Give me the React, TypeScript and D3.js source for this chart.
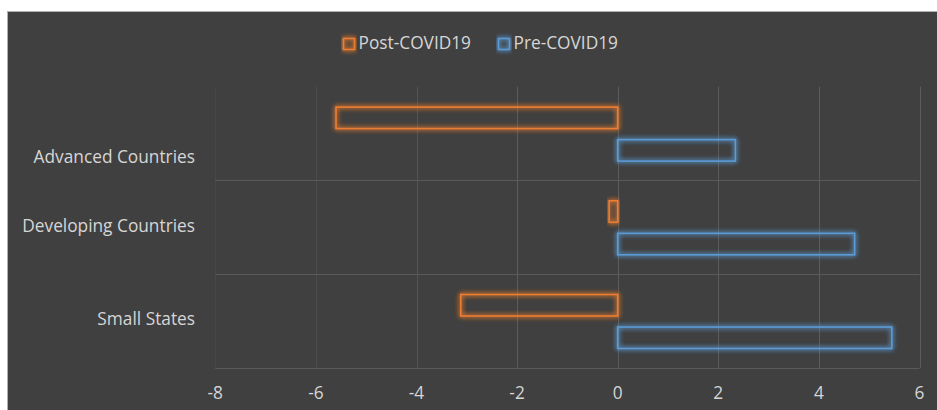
import React from "react";
import * as d3 from "d3";

const categories = ["Advanced Countries", "Developing Countries", "Small States"];
const seriesNames = ["Post-COVID19", "Pre-COVID19"];
const postCovid = [-5.6, -0.17, -3.12];
const preCovid = [2.34, 4.71, 5.45];
const xTicks = [-8, -6, -4, -2, 0, 2, 4, 6];

const COLORS: Record<string, string> = {
  "Post-COVID19": "#ED7D31",
  "Pre-COVID19": "#5B9BD5",
};

const FONT = "'Open Sans', 'DejaVu Sans', sans-serif";
const TEXT = "#d6d6d6";

export default function App() {
  const W = 937;
  const H = 410;
  const x = d3.scaleLinear().domain([-8, 6]).range([215.3, 919.5]);
  const y = d3.scaleBand<string>().domain(categories).range([86.6, 367.7]);
  const inner = d3
    .scaleBand<string>()
    .domain(seriesNames)
    .range([20.5, 74.5])
    .paddingInner(0.34);

  const seriesData: Record<string, number[]> = {
    "Post-COVID19": postCovid,
    "Pre-COVID19": preCovid,
  };

  const [y0, y1] = y.range();
  const boundaries = categories.slice(1).map((c) => y(c)!).concat([y1]);
  const gridColor = (t: number) =>
    t <= -8 ? "#464646" : t <= -6 ? "#4c4c4c" : t <= -4 ? "#535353" : "#5c5c5c";
  // first label sits lower in the reference image
  const labelShift = (i: number) => (i === 0 ? 25 : 0);

  return (
    <svg
      width={W}
      height={H}
      style={{ position: "absolute", left: 0, top: 0, display: "block" }}
    >
      <defs>
        <filter id="glow" x="-20%" y="-60%" width="140%" height="220%">
          <feGaussianBlur in="SourceGraphic" stdDeviation="2.4" result="blur" />
          <feMerge>
            <feMergeNode in="blur" />
            <feMergeNode in="blur" />
            <feMergeNode in="SourceGraphic" />
          </feMerge>
        </filter>
      </defs>
      <rect x={7.5} y={11.5} width={W} height={H} fill="#404040" stroke="#b0b0b0" strokeWidth={1} />

      {/* vertical gridlines */}
      {xTicks.map((t) => (
        <line
          key={"v" + t}
          x1={Math.round(x(t)) + 0.5}
          x2={Math.round(x(t)) + 0.5}
          y1={y0}
          y2={y1}
          stroke={gridColor(t)}
          strokeWidth={1}
        />
      ))}
      {/* horizontal category boundary lines */}
      {boundaries.map((b, i) => (
        <line
          key={"h" + i}
          x1={x(-8)}
          x2={x(6)}
          y1={Math.round(b) + 0.5}
          y2={Math.round(b) + 0.5}
          stroke="#5a5a5a"
          strokeWidth={1}
        />
      ))}

      {/* bars */}
      {categories.map((c, ci) =>
        seriesNames.map((s) => {
          const v = seriesData[s][ci];
          const xa = x(Math.min(0, v));
          const xb = x(Math.max(0, v));
          const yy = y(c)! + inner(s)!;
          return (
            <rect
              key={c + s}
              x={xa}
              y={yy}
              width={xb - xa}
              height={inner.bandwidth()}
              fill="none"
              stroke={COLORS[s]}
              strokeWidth={1.6}
              filter="url(#glow)"
            />
          );
        })
      )}

      {/* category labels */}
      {categories.map((c, i) => (
        <text
          key={"l" + c}
          x={195}
          y={y(c)! + y.bandwidth() / 2 + labelShift(i)}
          textAnchor="end"
          dominantBaseline="middle"
          fontFamily={FONT}
          fontSize={17.3}
          fill={TEXT}
        >
          {c}
        </text>
      ))}

      {/* x tick labels */}
      {xTicks.map((t) => (
        <text
          key={"t" + t}
          x={x(t)}
          y={398.5}
          textAnchor="middle"
          fontFamily={FONT}
          fontSize={17.3}
          fill={TEXT}
        >
          {t < 0 ? "-" + Math.abs(t) : String(t)}
        </text>
      ))}

      {/* legend */}
      {seriesNames.map((s, i) => {
        const lx = [343.5, 498.5][i];
        return (
          <g key={"lg" + s}>
            <rect
              x={lx}
              y={38.5}
              width={11}
              height={11}
              fill="none"
              stroke={COLORS[s]}
              strokeWidth={1.6}
              filter="url(#glow)"
            />
            <text
              x={lx + 15}
              y={49}
              fontFamily={FONT}
              fontSize={17.3}
              fill={TEXT}
            >
              {s}
            </text>
          </g>
        );
      })}
    </svg>
  );
}
